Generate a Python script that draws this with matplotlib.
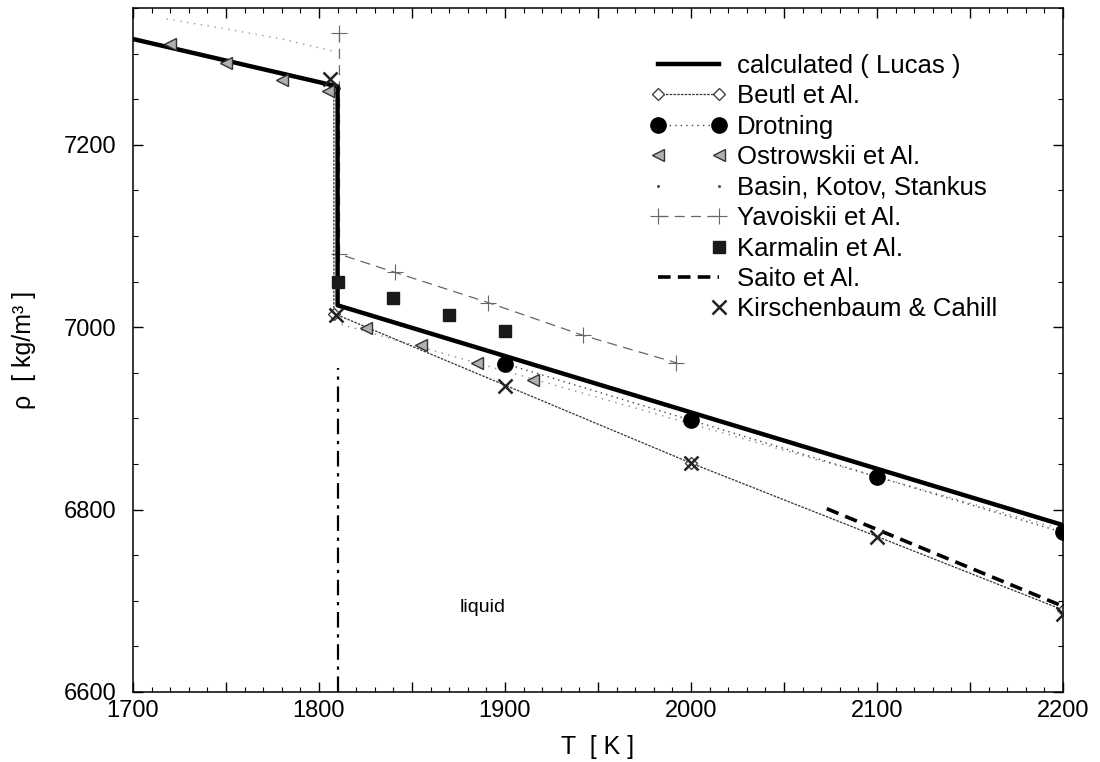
import numpy as np
import matplotlib
matplotlib.use("Agg")
import matplotlib.pyplot as plt
from matplotlib.lines import Line2D
from matplotlib.legend_handler import HandlerLine2D
from matplotlib.ticker import MultipleLocator, FuncFormatter

plt.rcParams['font.family'] = ['Liberation Sans', 'DejaVu Sans']

# calculated (Lucas): solid, jump at melting point, liquid
lucas_T = [1700, 1810, 1810, 2200]
lucas_rho = [7316, 7264, 7024, 6783]

beutl_T = [1808, 1808, 2000, 2200]
beutl_rho = [7262, 7015, 6851, 6690]

drotning_T = [1900, 2000, 2100, 2200]
drotning_rho = [6960, 6898, 6836, 6775]

ostrowskii_T = [1720, 1750, 1780, 1805, 1825, 1855, 1885, 1915]
ostrowskii_rho = [7311, 7290, 7271, 7259, 6999, 6980, 6961, 6942]

basin_sol_T = [1718, 1750, 1780, 1807]
basin_sol_rho = [7338, 7327, 7316, 7303]
basin_liq_T = [1812, 2200]
basin_liq_rho = [7003, 6778]

yavoiskii_T = [1811, 1811, 1841, 1891, 1942, 1992]
yavoiskii_rho = [7323, 7080, 7060, 7027, 6991, 6961]

karmalin_T = [1810, 1840, 1870, 1900]
karmalin_rho = [7050, 7032, 7013, 6996]

saito_T = [2073, 2200]
saito_rho = [6801, 6694]

kirsch_T = [1806, 1809, 1900, 2000, 2100, 2200]
kirsch_rho = [7272, 7013, 6936, 6851, 6770, 6686]

melt_T = [1810, 1810]
melt_rho = [6600, 6955]


class RightOnly(HandlerLine2D):
    # legend sample with the marker only at the right end
    def create_artists(self, legend, orig_handle, xdescent, ydescent,
                       width, height, fontsize, trans):
        arts = super().create_artists(legend, orig_handle, xdescent, ydescent,
                                      width, height, fontsize, trans)
        for a in arts:
            n = len(a.get_xdata())
            a.set_markevery([n - 1])
        return arts


fig = plt.figure(figsize=(11, 7.62), dpi=100)
ax = fig.add_axes([133/1100, 1-692/762, 930/1100, 684/762])

# melting line
ax.plot(melt_T, melt_rho, color="black", ls=(0, (7, 3, 1.5, 3)), lw=1.6)

# Basin, Kotov, Stankus
ax.plot(basin_sol_T, basin_sol_rho, color="#9a9a9a", ls=(0, (1, 4)), lw=1)
ax.plot(basin_liq_T, basin_liq_rho, color="#8a8a8a", ls=(0, (1, 4)), lw=1)
h_basin = Line2D([], [], ls="none", marker=".", ms=2.5, color="#555555")

# Yavoiskii
h_yav, = ax.plot(yavoiskii_T, yavoiskii_rho, color="#666666", ls=(0, (8, 5)),
                 lw=0.9, marker="+", ms=11, mew=0.8)

# Beutl
h_beutl, = ax.plot(beutl_T, beutl_rho, color="#333333", ls=(0, (2, 1)), lw=0.9,
                   marker="D", ms=6.5, mfc="white", mec="#444444", mew=1.0)

# Lucas
h_lucas, = ax.plot(lucas_T, lucas_rho, color="black", lw=3.2, zorder=3)

# Drotning
h_dro, = ax.plot(drotning_T, drotning_rho, color="#444444", ls=(0, (1, 3)),
                 lw=1, marker="o", ms=11, mfc="black", mec="black", zorder=4)

# Ostrowskii
h_ost, = ax.plot(ostrowskii_T, ostrowskii_rho, ls="none", marker="<", ms=8,
                 mfc="#b0b0b0", mec="#333333", mew=1.0, zorder=4)

# Karmalin
h_kar, = ax.plot(karmalin_T, karmalin_rho, ls="none", marker="s", ms=8.5,
                 mfc="#1a1a1a", mec="#1a1a1a", zorder=4)

# Saito
h_sai, = ax.plot(saito_T, saito_rho, color="black", ls=(0, (3.5, 2)), lw=2.6)

# Kirschenbaum & Cahill
h_kir, = ax.plot(kirsch_T, kirsch_rho, ls="none", marker="x", ms=10, mew=1.8,
                 color="#222222", zorder=5)

ax.text(1888, 6693, "liquid", fontsize=14, ha="center", va="center")

ax.set_xlim(1700, 2200)
ax.set_ylim(6600, 7350)

ax.xaxis.set_major_locator(MultipleLocator(50))
ax.xaxis.set_minor_locator(MultipleLocator(10))
ax.xaxis.set_major_formatter(FuncFormatter(lambda v, p: f"{v:.0f}" if round(v) % 100 == 0 else ""))
ax.yaxis.set_major_locator(MultipleLocator(200))
ax.yaxis.set_minor_locator(MultipleLocator(50))

ax.tick_params(which="both", direction="in", top=True, right=True, labelsize=17)
ax.tick_params(which="major", length=7, width=1)
ax.tick_params(which="minor", length=3.5, width=0.8)
ax.tick_params(axis="x", pad=6)
ax.tick_params(axis="y", pad=12)
for s in ax.spines.values():
    s.set_linewidth(1.1)

ax.set_xlabel("T  [ K ]", fontsize=18)
ax.set_ylabel("ρ  [ kg/m³ ]", fontsize=18)
ax.xaxis.set_label_coords(0.5, -0.063)
ax.yaxis.set_label_coords(-0.104, 0.5)

handles = [h_lucas, h_beutl, h_dro, h_ost, h_basin, h_yav, h_kar, h_sai, h_kir]
labels = ["calculated ( Lucas )", "Beutl et Al.", "Drotning", "Ostrowskii et Al.",
          "Basin, Kotov, Stankus", "Yavoiskii et Al.", "Karmalin et Al.",
          "Saito et Al.", "Kirschenbaum & Cahill"]
ax.legend(handles, labels, loc="upper left", bbox_to_anchor=(650/1100, 1-54/762),
          bbox_transform=fig.transFigure, frameon=False, fontsize=18.5,
          numpoints=2, handlelength=3.0, handletextpad=0.4, labelspacing=0.25,
          borderpad=0, borderaxespad=0,
          handler_map={h_kar: RightOnly(numpoints=2), h_kir: RightOnly(numpoints=2)})

fig.savefig("out.png", dpi=100)
